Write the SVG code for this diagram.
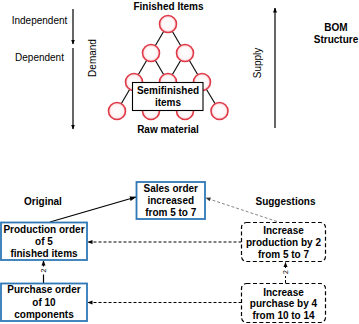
<svg xmlns="http://www.w3.org/2000/svg" width="359" height="324" viewBox="0 0 359 324">
<style>
text{font-family:"Liberation Sans",Arial,sans-serif;font-size:10px;fill:#000}
.b{font-weight:bold}
.m{text-anchor:middle}
.edge{stroke:#111;stroke-width:1.2}
.circ{fill:url(#cg);stroke:#e03a48;stroke-width:1.6}
.box{fill:#fff;stroke:#2e78b8;stroke-width:1.8}
.sug{fill:#fff;stroke:#000;stroke-width:1.2;stroke-dasharray:4,2.5}
.ax{stroke:#000;stroke-width:1.2;fill:none}
.dl{stroke:#000;stroke-width:1;stroke-dasharray:3,2;fill:none}
.small{font-size:7px}
</style>
<defs>
<radialGradient id="cg" cx="50%" cy="50%" r="50%">
<stop offset="0" stop-color="#ffffff"/>
<stop offset="0.7" stop-color="#fff6f7"/>
<stop offset="1" stop-color="#f7c9ce"/>
</radialGradient>
<marker id="ah" viewBox="0 0 10 10" refX="9" refY="5" markerWidth="5" markerHeight="5" markerUnits="userSpaceOnUse" orient="auto">
<path d="M0,1 L10,5 L0,9 z" fill="#000"/>
</marker>
<marker id="ahL" viewBox="0 0 10 10" refX="9" refY="5" markerWidth="7" markerHeight="7" markerUnits="userSpaceOnUse" orient="auto">
<path d="M0,1.5 L10,5 L0,8.5 z" fill="#000"/>
</marker>
<marker id="ahG" viewBox="0 0 10 10" refX="9" refY="5" markerWidth="5" markerHeight="5" markerUnits="userSpaceOnUse" orient="auto">
<path d="M0,1 L10,5 L0,9 z" fill="#333"/>
</marker>
</defs>

<g id="labels-top">
<text x="168.5" y="10" class="b m">Finished Items</text>
<text x="39.5" y="24" class="m">Independent</text>
<text x="39.5" y="61" class="m">Dependent</text>
<text transform="translate(96,58) rotate(-90)" class="m">Demand</text>
<text transform="translate(260.5,63) rotate(-90)" class="m">Supply</text>
<text x="336" y="31" class="b m">BOM</text>
<text x="336" y="43" class="b m">Structure</text>
<text x="168" y="133" class="b m">Raw material</text>
</g>

<g id="axes">
<line class="ax" x1="73" y1="9" x2="73" y2="44" marker-end="url(#ah)"/>
<line class="ax" x1="73" y1="48" x2="73" y2="129" marker-end="url(#ah)"/>
<line class="ax" x1="275" y1="128" x2="275" y2="8" marker-end="url(#ah)"/>
</g>

<g id="tree-edges">
<line class="edge" x1="168" y1="24" x2="151" y2="53"/>
<line class="edge" x1="168" y1="24" x2="185" y2="53"/>
<line class="edge" x1="151" y1="53" x2="134" y2="82"/>
<line class="edge" x1="151" y1="53" x2="168" y2="82"/>
<line class="edge" x1="185" y1="53" x2="168" y2="82"/>
<line class="edge" x1="185" y1="53" x2="202" y2="82"/>
<line class="edge" x1="134" y1="82" x2="117" y2="111"/>
<line class="edge" x1="134" y1="82" x2="151" y2="111"/>
<line class="edge" x1="168" y1="82" x2="151" y2="111"/>
<line class="edge" x1="168" y1="82" x2="185" y2="111"/>
<line class="edge" x1="202" y1="82" x2="185" y2="111"/>
<line class="edge" x1="202" y1="82" x2="219.5" y2="111"/>
</g>

<g id="tree-nodes">
<circle class="circ" cx="168" cy="24" r="8.5"/>
<circle class="circ" cx="151" cy="53" r="8.5"/>
<circle class="circ" cx="185" cy="53" r="8.5"/>
<circle class="circ" cx="134" cy="82" r="8.5"/>
<circle class="circ" cx="168" cy="82" r="8.5"/>
<circle class="circ" cx="202" cy="82" r="8.5"/>
<circle class="circ" cx="117" cy="111" r="8.5"/>
<circle class="circ" cx="151" cy="111" r="8.5"/>
<circle class="circ" cx="185" cy="111" r="8.5"/>
<circle class="circ" cx="219.5" cy="111" r="8.5"/>
</g>

<g id="semifinished">
<rect x="132.5" y="82.5" width="70.5" height="28" fill="#fff" stroke="#000" stroke-width="1.1"/>
<text x="168" y="94" class="b m">Semifinished</text>
<text x="168" y="105.5" class="b m">items</text>
</g>

<g id="labels-bottom">
<text x="43" y="205" class="b m">Original</text>
<text x="285.5" y="205" class="b m">Suggestions</text>
</g>

<g id="connectors">
<line x1="50" y1="222" x2="136" y2="197" stroke="#000" stroke-width="1.3" marker-end="url(#ahL)"/>
<line x1="43.5" y1="283" x2="43.5" y2="261" class="ax" stroke-width="1.1" marker-end="url(#ah)"/>
<rect x="40" y="266.5" width="7" height="8" fill="#fff"/>
<text transform="translate(46,270.5) rotate(-90)" class="small m">2</text>
<line x1="277" y1="221.5" x2="206" y2="198" stroke="#888" stroke-width="1" stroke-dasharray="3,2" marker-end="url(#ahG)"/>
<line x1="241.5" y1="242" x2="88" y2="242" class="dl" marker-end="url(#ah)"/>
<line x1="241.5" y1="302.5" x2="88" y2="302.5" class="dl" marker-end="url(#ah)"/>
<line x1="285.5" y1="283" x2="285.5" y2="262.5" class="dl" marker-end="url(#ah)"/>
<rect x="282" y="268" width="7" height="8" fill="#fff"/>
<text transform="translate(288,272) rotate(-90)" class="small m">2</text>
</g>

<g id="sales-order">
<rect class="box" x="136.5" y="182" width="68.5" height="37"/>
<text x="170.75" y="191.5" class="b m">Sales order</text>
<text x="170.75" y="204" class="b m">increased</text>
<text x="170.75" y="216" class="b m">from 5 to 7</text>
</g>

<g id="production-order">
<rect class="box" x="1" y="222.5" width="86" height="37.5"/>
<text x="44" y="233" class="b m">Production order</text>
<text x="44" y="245" class="b m">of 5</text>
<text x="44" y="256.5" class="b m">finished items</text>
</g>

<g id="purchase-order">
<rect class="box" x="1" y="283.5" width="86" height="37.5"/>
<text x="44" y="293" class="b m">Purchase order</text>
<text x="44" y="305.5" class="b m">of 10</text>
<text x="44" y="317.5" class="b m">components</text>
</g>

<g id="suggest-production">
<rect class="sug" x="241.5" y="222.5" width="84" height="39" rx="5"/>
<text x="283.5" y="234" class="b m">Increase</text>
<text x="283.5" y="245.5" class="b m">production by 2</text>
<text x="283.5" y="257.5" class="b m">from 5 to 7</text>
</g>

<g id="suggest-purchase">
<rect class="sug" x="241.5" y="283.5" width="84" height="39" rx="5"/>
<text x="283.5" y="295.5" class="b m">Increase</text>
<text x="283.5" y="307" class="b m">purchase by 4</text>
<text x="283.5" y="319" class="b m">from 10 to 14</text>
</g>
</svg>
